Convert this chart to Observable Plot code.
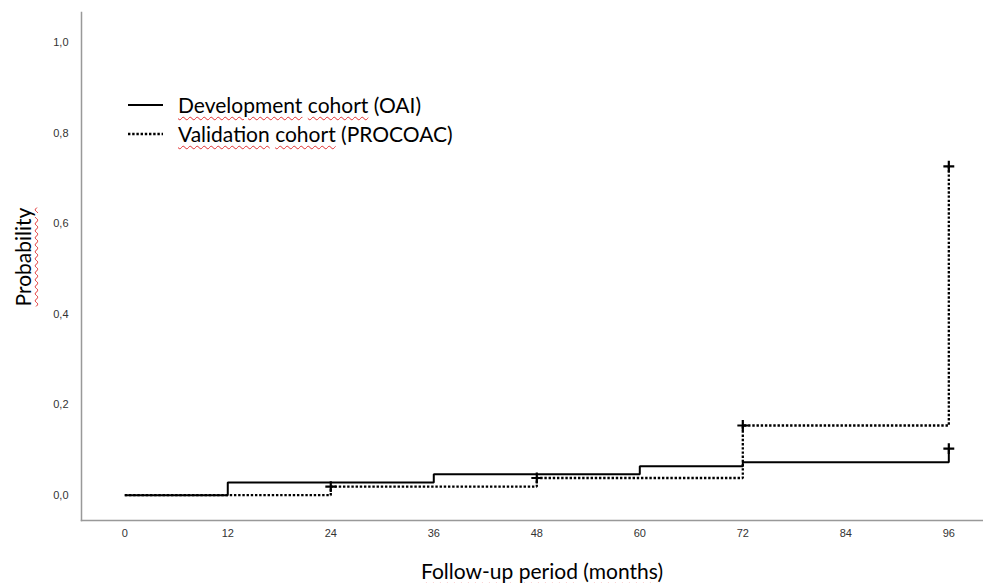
<!DOCTYPE html>
<html>
<head>
<meta charset="utf-8">
<script src="https://cdn.jsdelivr.net/npm/d3@7"></script>
<script src="https://cdn.jsdelivr.net/npm/@observablehq/plot@0.6"></script>
<style>
  html, body { margin: 0; padding: 0; background: #fff; }
  #wrap { position: relative; width: 983px; height: 583px; overflow: hidden; }
  .t { position: absolute; font-family: Lato, "Open Sans", sans-serif; color: #000; white-space: nowrap; }
  .sq { text-decoration: underline wavy #e03030; text-decoration-thickness: 1px; text-underline-offset: 3px; }
  #ytitle { left: 22px; top: 257px; font-size: 21px; transform: translate(-50%, -50%) rotate(-90deg); }
  #xtitle { left: 542px; top: 570px; font-size: 21px; transform: translate(-50%, -50%); }
  #legend { position: absolute; left: 128px; top: 90px; font-family: Lato, "Open Sans", sans-serif; font-size: 21px; }
  #legend .row { display: flex; align-items: center; height: 29px; }
  #legend svg { margin-right: 15px; }
</style>
</head>
<body>
<div id="wrap"></div>
<script>
// Data
const months = [0, 12, 24, 36, 48, 60, 72, 84, 96];
const yTicks = [0, 0.2, 0.4, 0.6, 0.8, 1.0];
const devTime = [0, 12, 36, 60, 72, 96];
const devProb = [0, 0.028, 0.046, 0.064, 0.073, 0.103];
const valTime = [0, 24, 48, 72, 96];
const valProb = [0, 0.019, 0.038, 0.154, 0.727];
const devCensorTime = [96];
const devCensorProb = [0.103];
const valCensorTime = [24, 48, 72, 96];
const valCensorProb = [0.019, 0.038, 0.154, 0.727];
const seriesNames = ["Development cohort (OAI)", "Validation cohort (PROCOAC)"];

const dev = devTime.map((t, i) => ({t, p: devProb[i]}));
const val = valTime.map((t, i) => ({t, p: valProb[i]}));
const devC = devCensorTime.map((t, i) => ({t, p: devCensorProb[i]}));
const valC = valCensorTime.map((t, i) => ({t, p: valCensorProb[i]}));

const fmt = d => d3.format(".1f")(d).replace(".", ",");
const DASH = "2.4,1.8";

const chart = Plot.plot({
  width: 983,
  height: 583,
  marginLeft: 81,
  marginRight: 0,
  marginTop: 12,
  marginBottom: 63,
  style: {fontFamily: "'Liberation Sans', Arial, sans-serif", fontSize: "11px", color: "#333", background: "#fff"},
  x: {domain: [-5.04, 100.04]},
  y: {domain: [-0.056, 1.067]},
  marks: [
    Plot.axisX({ticks: months, tickSize: 0, tickPadding: 9, label: null, fontSize: 11}),
    Plot.axisY({ticks: yTicks, tickSize: 0, tickPadding: 13, tickFormat: fmt, label: null, fontSize: 11}),
    Plot.frame({anchor: "left", stroke: "#999", strokeWidth: 1.5}),
    Plot.frame({anchor: "bottom", stroke: "#999", strokeWidth: 1.5}),
    Plot.line(val, {x: "t", y: "p", curve: "step-after", stroke: "#000", strokeWidth: 2.3, strokeDasharray: DASH, strokeLinecap: "butt", strokeLinejoin: "miter"}),
    Plot.line(dev, {x: "t", y: "p", curve: "step-after", stroke: "#000", strokeWidth: 2, strokeLinecap: "butt", strokeLinejoin: "miter"}),
    Plot.dot(valC, {x: "t", y: "p", symbol: "plus", r: 3.6, stroke: "#000", strokeWidth: 2.2}),
    Plot.dot(devC, {x: "t", y: "p", symbol: "plus", r: 3.6, stroke: "#000", strokeWidth: 2.2})
  ]
});

const wrap = document.getElementById("wrap");
wrap.appendChild(chart);

const yt = document.createElement("div");
yt.id = "ytitle"; yt.className = "t";
yt.innerHTML = '<span class="sq">Probability</span>';
wrap.appendChild(yt);

const xt = document.createElement("div");
xt.id = "xtitle"; xt.className = "t";
xt.innerHTML = '<span class="sq">Follow-up</span> <span class="sq">period</span> (<span class="sq">months</span>)';
wrap.appendChild(xt);

const lg = document.createElement("div");
lg.id = "legend";
const dashes = ["", DASH];
const widths = [2, 2.3];
seriesNames.forEach((name, i) => {
  const parts = name.split(" ");
  const row = document.createElement("div");
  row.className = "row";
  row.innerHTML = `<svg width="35" height="6"><line x1="0" x2="35" y1="3" y2="3" stroke="#000" stroke-width="${widths[i]}" ${dashes[i] ? `stroke-dasharray="${dashes[i]}"` : ""}/></svg>` +
    `<span><span class="sq">${parts[0]}</span> <span class="sq">${parts[1]}</span> ${parts.slice(2).join(" ")}</span>`;
  lg.appendChild(row);
});
wrap.appendChild(lg);
</script>
</body>
</html>
